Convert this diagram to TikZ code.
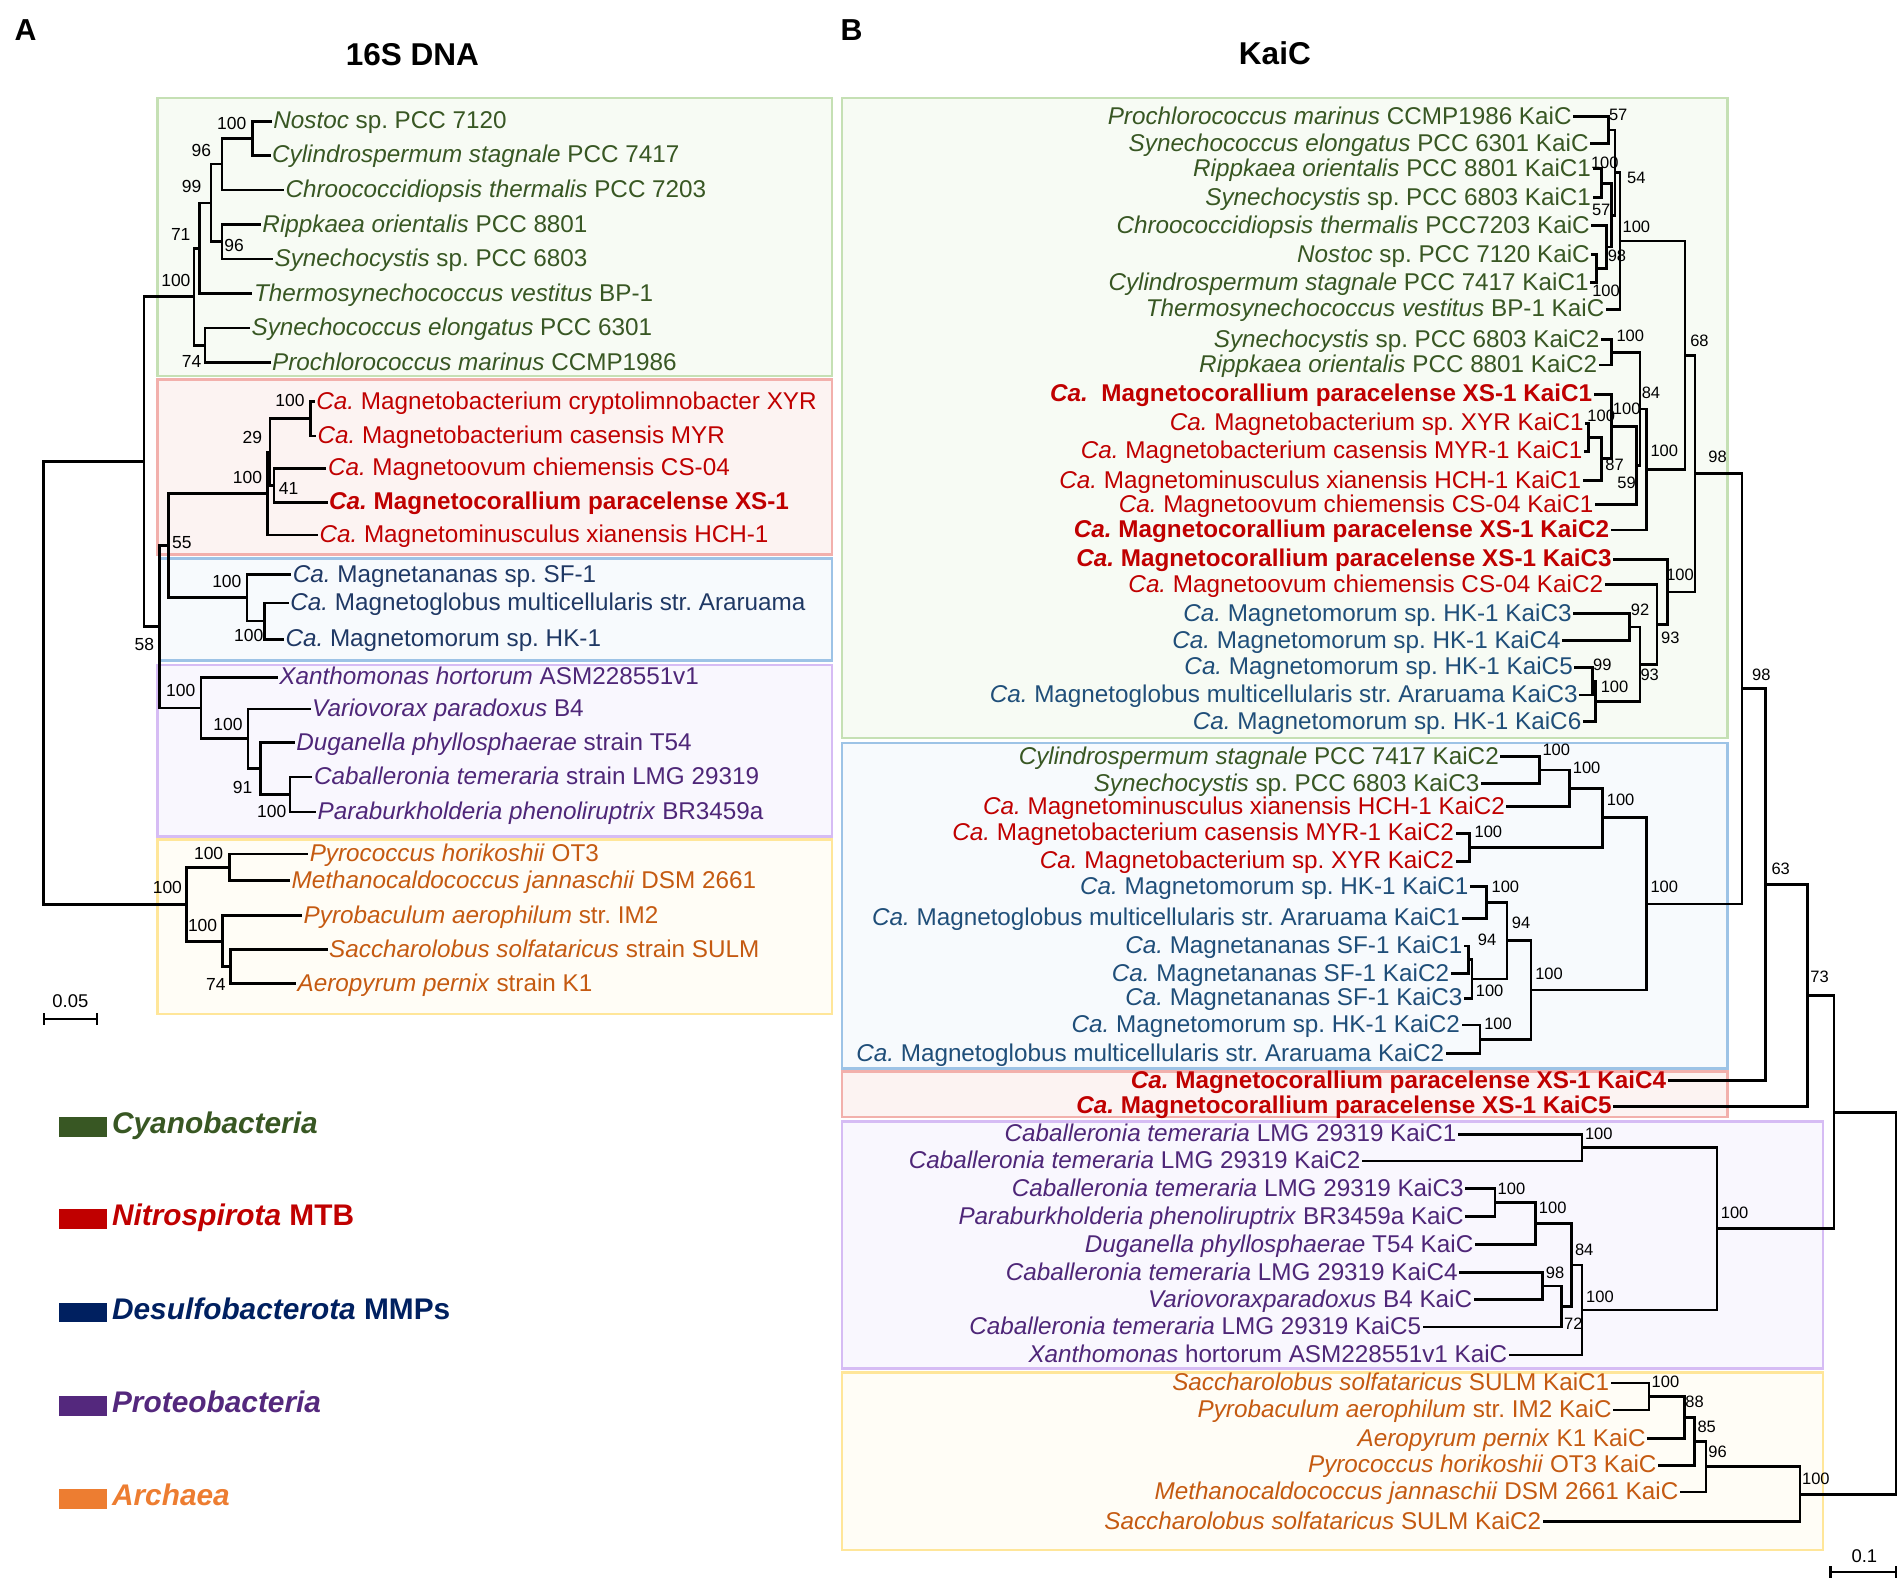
\documentclass[tikz,border=0pt]{standalone}
\usepackage{fontspec}
\setmainfont{Liberation Sans}
\frenchspacing
% label colours
\definecolor{cyanoT}{RGB}{56,87,35}
\definecolor{nitroT}{RGB}{192,0,0}
\definecolor{desulT}{RGB}{31,56,100}
\definecolor{desulB}{RGB}{31,78,121}
\definecolor{proteoT}{RGB}{78,38,120}
\definecolor{archT}{RGB}{197,90,17}
\definecolor{desulL}{RGB}{0,32,96}
\definecolor{proteoL}{RGB}{84,40,125}
\definecolor{archL}{RGB}{237,125,49}
% group boxes
\definecolor{cyD}{RGB}{197,224,180}\definecolor{cyF}{RGB}{247,251,244}
\definecolor{niD}{RGB}{242,176,172}\definecolor{niF}{RGB}{252,243,242}
\definecolor{deD}{RGB}{157,195,230}\definecolor{deF}{RGB}{247,250,253}
\definecolor{prD}{RGB}{214,188,244}\definecolor{prF}{RGB}{249,247,254}
\definecolor{arD}{RGB}{255,230,153}\definecolor{arF}{RGB}{255,253,246}
\tikzset{
  branch/.style={line width=1.1pt,line cap=rect},
  leafA/.style={anchor=west,inner sep=1pt,text height=7.3pt,text depth=1pt,font=\fontsize{10}{12}\selectfont},
  leafB/.style={leafA,anchor=east},
  bsA/.style={inner sep=0pt,font=\fontsize{7.2}{8}\selectfont},
  bsB/.style={inner sep=0pt,font=\fontsize{6.8}{8}\selectfont},
  ttl/.style={inner sep=0pt,font=\fontsize{13}{15}\selectfont\bfseries},
  panel/.style={inner sep=0pt,font=\fontsize{12.5}{15}\selectfont\bfseries},
  lgd/.style={anchor=base west,inner sep=0pt,font=\fontsize{12.3}{14}\selectfont\bfseries},
  boxcy/.style={draw=cyD,fill=cyF,line width=1pt},
  boxni/.style={draw=niD,fill=niF,line width=1pt},
  boxde/.style={draw=deD,fill=deF,line width=1pt},
  boxpr/.style={draw=prD,fill=prF,line width=1pt},
  boxar/.style={draw=arD,fill=arF,line width=1pt}
}
\begin{document}
\begin{tikzpicture}[x=0.5pt,y=-0.5pt]
\useasboundingbox (0,0) rectangle (1568,1307);
% group boxes, panel A
\draw[boxcy] (130,81) rectangle (686,310);
\draw[boxni] (130,313) rectangle (686,457);
\draw[boxde] (131.5,460.5) rectangle (686,544.5);
\draw[boxpr] (130,548) rectangle (686,689.5);
\draw[boxar] (130,692) rectangle (686,836);
% group boxes, panel B
\draw[boxcy] (694,81) rectangle (1424,608.5);
\draw[boxde] (694,612.3) rectangle (1424,880.8);
\draw[boxni] (694,883.5) rectangle (1424,920.6);
\draw[boxpr] (694,924.7) rectangle (1503,1128);
\draw[boxar] (694,1131.6) rectangle (1503,1278);
% titles
\node[panel] (labA) at (21,25) {A};
\node[panel] (labB) at (702,25) {B};
\node[ttl] (titA) at (340,45) {16S DNA};
\node[ttl] (titB) at (1051,44) {KaiC};

%%%%%%%% panel A : 16S tree
% leaves
\node[leafA,text=cyanoT] (nostoc) at (223,100) {\textit{Nostoc} sp. PCC 7120};
\node[leafA,text=cyanoT] (cylind) at (222,128) {\textit{Cylindrospermum stagnale} PCC 7417};
\node[leafA,text=cyanoT] (chroo) at (233,156.5) {\textit{Chroococcidiopsis thermalis} PCC 7203};
\node[leafA,text=cyanoT] (rippk) at (214,185) {\textit{Rippkaea orientalis} PCC 8801};
\node[leafA,text=cyanoT] (synocy) at (224,213.5) {\textit{Synechocystis} sp. PCC 6803};
\node[leafA,text=cyanoT] (thermo) at (207,242) {\textit{Thermosynechococcus vestitus} BP-1};
\node[leafA,text=cyanoT] (synoco) at (205,270.5) {\textit{Synechococcus elongatus} PCC 6301};
\node[leafA,text=cyanoT] (prochl) at (222,299) {\textit{Prochlorococcus marinus} CCMP1986};
\node[leafA,text=nitroT] (mbxyr) at (258.5,331) {\textit{Ca.} Magnetobacterium cryptolimnobacter XYR};
\node[leafA,text=nitroT] (mbmyr) at (259.5,359.5) {\textit{Ca.} Magnetobacterium casensis MYR};
\node[leafA,text=nitroT] (movum) at (268,386) {\textit{Ca.} Magnetoovum chiemensis CS-04};
\node[leafA,text=nitroT] (mcor) at (269,414) {\textbf{\textit{Ca.} Magnetocorallium paracelense XS-1}};
\node[leafA,text=nitroT] (mminus) at (261,441) {\textit{Ca.} Magnetominusculus xianensis HCH-1};
\node[leafA,text=desulT] (mnanas) at (239,473.5) {\textit{Ca.} Magnetananas sp. SF-1};
\node[leafA,text=desulT] (mglob) at (237,497) {\textit{Ca.} Magnetoglobus multicellularis str. Araruama};
\node[leafA,text=desulT] (mmorum) at (233,527) {\textit{Ca.} Magnetomorum sp. HK-1};
\node[leafA,text=proteoT] (xanth) at (228,558.4) {\textit{Xanthomonas hortorum} ASM228551v1};
\node[leafA,text=proteoT] (vario) at (255,584.5) {\textit{Variovorax paradoxus} B4};
\node[leafA,text=proteoT] (dugan) at (242,612) {\textit{Duganella phyllosphaerae} strain T54};
\node[leafA,text=proteoT] (caball) at (256.5,640.6) {\textit{Caballeronia temeraria} strain LMG 29319};
\node[leafA,text=proteoT] (parab) at (259.5,669.4) {\textit{Paraburkholderia phenoliruptrix} BR3459a};
\node[leafA,text=archT] (pyroc) at (253,704) {\textit{Pyrococcus horikoshii} OT3};
\node[leafA,text=archT] (methan) at (238,726) {\textit{Methanocaldococcus jannaschii} DSM 2661};
\node[leafA,text=archT] (pyrob) at (248,754.8) {\textit{Pyrobaculum aerophilum} str. IM2};
\node[leafA,text=archT] (saccha) at (269,783) {\textit{Saccharolobus solfataricus} strain SULM};
\node[leafA,text=archT] (aerop) at (243,811) {\textit{Aeropyrum pernix} strain K1};
% clades
\coordinate (cy100a) at (208,114);
\draw[branch] (nostoc.west) -| (cy100a) (cylind.west) -| (cy100a);
\coordinate (cy96a) at (183,135.25);
\draw[branch] (cy100a) -| (cy96a) (chroo.west) -| (cy96a);
\coordinate (cy96b) at (183,199.25);
\draw[branch] (rippk.west) -| (cy96b) (synocy.west) -| (cy96b);
\coordinate (cy99) at (174,167.25);
\draw[branch] (cy96a) -| (cy99) (cy96b) -| (cy99);
\coordinate (cy71) at (164.5,204.6);
\draw[branch] (cy99) -| (cy71) (thermo.west) -| (cy71);
\coordinate (cy74) at (169,284.75);
\draw[branch] (synoco.west) -| (cy74) (prochl.west) -| (cy74);
\coordinate (cy100b) at (160,244.7);
\draw[branch] (cy71) -| (cy100b) (cy74) -| (cy100b);
\coordinate (ni100a) at (256,345.25);
\draw[branch] (mbxyr.west) -| (ni100a) (mbmyr.west) -| (ni100a);
\coordinate (ni41) at (226,400);
\draw[branch] (movum.west) -| (ni41) (mcor.west) -| (ni41);
\coordinate (ni29) at (222.5,372.6);
\draw[branch] (ni100a) -| (ni29) (ni41) -| (ni29);
\coordinate (ni100) at (220.5,406.8);
\draw[branch] (ni29) -| (ni100) (mminus.west) -| (ni100);
\coordinate (de100b) at (218,512);
\draw[branch] (mglob.west) -| (de100b) (mmorum.west) -| (de100b);
\coordinate (de100) at (203.6,492.75);
\draw[branch] (mnanas.west) -| (de100) (de100b) -| (de100);
\coordinate (nd55) at (139,449.8);
\draw[branch] (ni100) -| (nd55) (de100) -| (nd55);
\coordinate (pr100c) at (239,655);
\draw[branch] (caball.west) -| (pr100c) (parab.west) -| (pr100c);
\coordinate (pr91) at (214.7,633.5);
\draw[branch] (dugan.west) -| (pr91) (pr100c) -| (pr91);
\coordinate (pr100b) at (204.5,609);
\draw[branch] (vario.west) -| (pr100b) (pr91) -| (pr100b);
\coordinate (pr100) at (165.7,583.7);
\draw[branch] (xanth.west) -| (pr100) (pr100b) -| (pr100);
\coordinate (nd58) at (131.3,516.75);
\draw[branch] (nd55) -| (nd58) (pr100) -| (nd58);
\coordinate (ndtop) at (118.8,380.7);
\draw[branch] (cy100b) -| (ndtop) (nd58) -| (ndtop);
\coordinate (ar100b) at (189.3,715);
\draw[branch] (pyroc.west) -| (ar100b) (methan.west) -| (ar100b);
\coordinate (ar74) at (190,797);
\draw[branch] (saccha.west) -| (ar74) (aerop.west) -| (ar74);
\coordinate (ar100c) at (183.5,775.9);
\draw[branch] (pyrob.west) -| (ar100c) (ar74) -| (ar100c);
\coordinate (ar100) at (153.6,745.45);
\draw[branch] (ar100b) -| (ar100) (ar100c) -| (ar100);
\coordinate (rootA) at (36,563);
\draw[branch] (ndtop) -| (rootA) (ar100) -| (rootA);
% bootstrap values
\node[bsA] (bsA1) at (191,102) {100};
\node[bsA] (bsA2) at (166,124) {96};
\node[bsA] (bsA3) at (158,154) {99};
\node[bsA] (bsA4) at (149,193) {71};
\node[bsA] (bsA5) at (193,202) {96};
\node[bsA] (bsA6) at (145,231) {100};
\node[bsA] (bsA7) at (158,298) {74};
\node[bsA] (bsA8) at (239,330) {100};
\node[bsA] (bsA9) at (208,361) {29};
\node[bsA] (bsA10) at (204,394) {100};
\node[bsA] (bsA11) at (238,403) {41};
\node[bsA] (bsA12) at (150,447) {55};
\node[bsA] (bsA13) at (187,479) {100};
\node[bsA] (bsA14) at (205,524) {100};
\node[bsA] (bsA15) at (119,531) {58};
\node[bsA] (bsA16) at (149,569) {100};
\node[bsA] (bsA17) at (188,597) {100};
\node[bsA] (bsA18) at (200,649) {91};
\node[bsA] (bsA19) at (224,669) {100};
\node[bsA] (bsA20) at (172,704) {100};
\node[bsA] (bsA21) at (138,732) {100};
\node[bsA] (bsA22) at (167,763) {100};
\node[bsA] (bsA23) at (178,812) {74};
% scale bar
\coordinate (sbA1) at (36.3,840);
\coordinate (sbA2) at (80,840);
\draw[branch] (sbA1) -- (sbA2) (sbA1) ++(0,-4) -- ++(0,8) (sbA2) ++(0,-4) -- ++(0,8);
\node[bsA,font=\fontsize{7.6}{8}\selectfont] (sbAt) at (58,825) {0.05};

% legend
\fill[cyanoT] (48.4,921) rectangle (88.5,937);
\node[lgd,text=cyanoT] (lgcy) at (92,934.5) {\textit{Cyanobacteria}};
\fill[nitroT] (48.4,997) rectangle (88.5,1013);
\node[lgd,text=nitroT] (lgni) at (92,1010.5) {\textit{Nitrospirota} MTB};
\fill[desulL] (48.4,1074) rectangle (88.5,1090);
\node[lgd,text=desulL] (lgde) at (92,1087.5) {\textit{Desulfobacterota} MMPs};
\fill[proteoL] (48.4,1151) rectangle (88.5,1167);
\node[lgd,text=proteoL] (lgpr) at (92,1164.5) {\textit{Proteobacteria}};
\fill[archL] (48.4,1227.6) rectangle (88.5,1243.6);
\node[lgd,text=archL] (lgar) at (92,1241) {\textit{Archaea}};

%%%%%%%% panel B : KaiC tree
% leaves
\node[leafB,text=cyanoT] (k01) at (1298,96) {\textit{Prochlorococcus marinus} CCMP1986 KaiC};
\node[leafB,text=cyanoT] (k02) at (1312,118.5) {\textit{Synechococcus elongatus} PCC 6301 KaiC};
\node[leafB,text=cyanoT] (k03) at (1314,139) {\textit{Rippkaea orientalis} PCC 8801 KaiC1};
\node[leafB,text=cyanoT] (k04) at (1314,163) {\textit{Synechocystis} sp. PCC 6803 KaiC1};
\node[leafB,text=cyanoT] (k05) at (1313,186) {\textit{Chroococcidiopsis thermalis} PCC7203 KaiC};
\node[leafB,text=cyanoT] (k06) at (1313,210) {\textit{Nostoc} sp. PCC 7120 KaiC};
\node[leafB,text=cyanoT] (k07) at (1312,233) {\textit{Cylindrospermum stagnale} PCC 7417 KaiC1};
\node[leafB,text=cyanoT] (k08) at (1325,255) {\textit{Thermosynechococcus vestitus} BP-1 KaiC};
\node[leafB,text=cyanoT] (k09) at (1321,280) {\textit{Synechocystis} sp. PCC 6803 KaiC2};
\node[leafB,text=cyanoT] (k10) at (1319,301) {\textit{Rippkaea orientalis} PCC 8801 KaiC2};
\node[leafB,text=nitroT] (k11) at (1315,325) {\textbf{\textit{Ca.}\ \ Magnetocorallium paracelense XS-1 KaiC1}};
\node[leafB,text=nitroT] (k12) at (1308,349) {\textit{Ca.} Magnetobacterium sp. XYR KaiC1};
\node[leafB,text=nitroT] (k13) at (1307,372) {\textit{Ca.} Magnetobacterium casensis MYR-1 KaiC1};
\node[leafB,text=nitroT] (k14) at (1306,396) {\textit{Ca.} Magnetominusculus xianensis HCH-1 KaiC1};
\node[leafB,text=nitroT] (k15) at (1316,416) {\textit{Ca.} Magnetoovum chiemensis CS-04 KaiC1};
\node[leafB,text=nitroT] (k16) at (1329,437) {\textbf{\textit{Ca.} Magnetocorallium paracelense XS-1 KaiC2}};
\node[leafB,text=nitroT] (k17) at (1331,461) {\textbf{\textit{Ca.} Magnetocorallium paracelense XS-1 KaiC3}};
\node[leafB,text=nitroT] (k18) at (1324,482) {\textit{Ca.} Magnetoovum chiemensis CS-04 KaiC2};
\node[leafB,text=desulB] (k19) at (1298,506) {\textit{Ca.} Magnetomorum sp. HK-1 KaiC3};
\node[leafB,text=desulB] (k20) at (1289,528) {\textit{Ca.} Magnetomorum sp. HK-1 KaiC4};
\node[leafB,text=desulB] (k21) at (1299,550) {\textit{Ca.} Magnetomorum sp. HK-1 KaiC5};
\node[leafB,text=desulB] (k22) at (1303,573) {\textit{Ca.} Magnetoglobus multicellularis str. Araruama KaiC3};
\node[leafB,text=desulB] (k23) at (1306,595) {\textit{Ca.} Magnetomorum sp. HK-1 KaiC6};
\node[leafB,text=cyanoT] (k24) at (1238,623.8) {\textit{Cylindrospermum stagnale} PCC 7417 KaiC2};
\node[leafB,text=cyanoT] (k25) at (1222,645.8) {\textit{Synechocystis} sp. PCC 6803 KaiC3};
\node[leafB,text=nitroT] (k26) at (1243,665) {\textit{Ca.} Magnetominusculus xianensis HCH-1 KaiC2};
\node[leafB,text=nitroT] (k27) at (1201,687) {\textit{Ca.} Magnetobacterium casensis MYR-1 KaiC2};
\node[leafB,text=nitroT] (k28) at (1201,710) {\textit{Ca.} Magnetobacterium sp. XYR KaiC2};
\node[leafB,text=desulB] (k29) at (1213,731) {\textit{Ca.} Magnetomorum sp. HK-1 KaiC1};
\node[leafB,text=desulB] (k30) at (1206,757) {\textit{Ca.} Magnetoglobus multicellularis str. Araruama KaiC1};
\node[leafB,text=desulB] (k31) at (1208,780) {\textit{Ca.} Magnetananas SF-1 KaiC1};
\node[leafB,text=desulB] (k32) at (1197,802.5) {\textit{Ca.} Magnetananas SF-1 KaiC2};
\node[leafB,text=desulB] (k33) at (1208,823) {\textit{Ca.} Magnetananas SF-1 KaiC3};
\node[leafB,text=desulB] (k34) at (1206,845) {\textit{Ca.} Magnetomorum sp. HK-1 KaiC2};
\node[leafB,text=desulB] (k35) at (1193,868.4) {\textit{Ca.} Magnetoglobus multicellularis str. Araruama KaiC2};
\node[leafB,text=nitroT] (k36) at (1376,891) {\textbf{\textit{Ca.} Magnetocorallium paracelense XS-1 KaiC4}};
\node[leafB,text=nitroT] (k37) at (1331,912) {\textbf{\textit{Ca.} Magnetocorallium paracelense XS-1 KaiC5}};
\node[leafB,text=proteoT] (k38) at (1203,935) {\textit{Caballeronia temeraria} LMG 29319 KaiC1};
\node[leafB,text=proteoT] (k39) at (1124,957) {\textit{Caballeronia temeraria} LMG 29319 KaiC2};
\node[leafB,text=proteoT] (k40) at (1209,980) {\textit{Caballeronia temeraria} LMG 29319 KaiC3};
\node[leafB,text=proteoT] (k41) at (1209,1003) {\textit{Paraburkholderia phenoliruptrix} BR3459a KaiC};
\node[leafB,text=proteoT] (k42) at (1217,1026) {\textit{Duganella phyllosphaerae} T54 KaiC};
\node[leafB,text=proteoT] (k43) at (1204,1049) {\textit{Caballeronia temeraria} LMG 29319 KaiC4};
\node[leafB,text=proteoT] (k44) at (1216,1071.5) {\textit{Variovoraxparadoxus} B4 KaiC};
\node[leafB,text=proteoT] (k45) at (1174,1094) {\textit{Caballeronia temeraria} LMG 29319 KaiC5};
\node[leafB,text=proteoT] (k46) at (1245,1117) {\textit{Xanthomonas} hortorum ASM228551v1 KaiC};
\node[leafB,text=archT] (k47) at (1329,1140) {\textit{Saccharolobus solfataricus} SULM KaiC1};
\node[leafB,text=archT] (k48) at (1331,1162.5) {\textit{Pyrobaculum aerophilum} str. IM2 KaiC};
\node[leafB,text=archT] (k49) at (1359,1186) {\textit{Aeropyrum pernix} K1 KaiC};
\node[leafB,text=archT] (k50) at (1368,1208) {\textit{Pyrococcus horikoshii} OT3 KaiC};
\node[leafB,text=archT] (k51) at (1386,1230) {\textit{Methanocaldococcus jannaschii} DSM 2661 KaiC};
\node[leafB,text=archT] (k52) at (1273,1254.5) {\textit{Saccharolobus solfataricus} SULM KaiC2};
% clades, cyanobacterial KaiC1
\coordinate (kA) at (1326,107.25);
\draw[branch] (k01.east) -| (kA) (k02.east) -| (kA);
\coordinate (kB) at (1320.4,151);
\draw[branch] (k03.east) -| (kB) (k04.east) -| (kB);
\coordinate (kD) at (1316,221.5);
\draw[branch] (k06.east) -| (kD) (k07.east) -| (kD);
\coordinate (kE) at (1324.6,203.75);
\draw[branch] (k05.east) -| (kE) (kD) -| (kE);
\coordinate (kF) at (1328.7,177.4);
\draw[branch] (kB) -| (kF) (kE) -| (kF);
\coordinate (kG) at (1331.5,142.3);
\draw[branch] (kA) -| (kG) (kF) -| (kG);
\coordinate (kH) at (1335.6,198.7);
\draw[branch] (kG) -| (kH) (k08.east) -| (kH);
% KaiC2 / Nitrospirota KaiC1
\coordinate (kN1) at (1328.7,290.5);
\draw[branch] (k09.east) -| (kN1) (k10.east) -| (kN1);
\coordinate (kN2) at (1309.5,360.5);
\draw[branch] (k12.east) -| (kN2) (k13.east) -| (kN2);
\coordinate (kN3) at (1320.4,378.25);
\draw[branch] (kN2) -| (kN3) (k14.east) -| (kN3);
\coordinate (kN4) at (1328.7,351.6);
\draw[branch] (k11.east) -| (kN4) (kN3) -| (kN4);
\coordinate (kN5) at (1349,383.8);
\draw[branch] (kN4) -| (kN5) (k15.east) -| (kN5);
\coordinate (kN7) at (1352,337.2);
\draw[branch] (kN1) -| (kN7) (kN5) -| (kN7);
\coordinate (kN6) at (1357.5,387.1);
\draw[branch] (kN7) -| (kN6) (k16.east) -| (kN6);
\coordinate (k68) at (1389,292.9);
\draw[branch] (kH) -| (k68) (kN6) -| (k68);
% XS-1 KaiC3 group
\coordinate (kM1) at (1312.6,561.5);
\draw[branch] (k21.east) -| (kM1) (k22.east) -| (kM1);
\coordinate (kM2) at (1315.4,578.25);
\draw[branch] (kM1) -| (kM2) (k23.east) -| (kM2);
\coordinate (kM3) at (1343.5,517);
\draw[branch] (k19.east) -| (kM3) (k20.east) -| (kM3);
\coordinate (kM4) at (1352,547.6);
\draw[branch] (kM3) -| (kM4) (kM2) -| (kM4);
\coordinate (kM5) at (1366,514.8);
\draw[branch] (k18.east) -| (kM5) (kM4) -| (kM5);
\coordinate (kM6) at (1374.4,487.9);
\draw[branch] (k17.east) -| (kM6) (kM5) -| (kM6);
\coordinate (k98a) at (1397.4,390.4);
\draw[branch] (k68) -| (k98a) (kM6) -| (k98a);
% blue box group
\coordinate (kB1) at (1269.4,634.8);
\draw[branch] (k24.east) -| (kB1) (k25.east) -| (kB1);
\coordinate (kB2) at (1294,649.9);
\draw[branch] (kB1) -| (kB2) (k26.east) -| (kB2);
\coordinate (kB3) at (1211.6,698.5);
\draw[branch] (k27.east) -| (kB3) (k28.east) -| (kB3);
\coordinate (kB4) at (1321,674.2);
\draw[branch] (kB2) -| (kB4) (kB3) -| (kB4);
\coordinate (kB5) at (1225.6,744);
\draw[branch] (k29.east) -| (kB5) (k30.east) -| (kB5);
\coordinate (kB6) at (1210.5,791.25);
\draw[branch] (k31.east) -| (kB6) (k32.east) -| (kB6);
\coordinate (kB7) at (1213.5,807.1);
\draw[branch] (kB6) -| (kB7) (k33.east) -| (kB7);
\coordinate (kB8) at (1242.4,775.6);
\draw[branch] (kB5) -| (kB8) (kB7) -| (kB8);
\coordinate (kB9) at (1220,856.7);
\draw[branch] (k34.east) -| (kB9) (k35.east) -| (kB9);
\coordinate (kB10) at (1262,816.1);
\draw[branch] (kB8) -| (kB10) (kB9) -| (kB10);
\coordinate (kB11) at (1357.5,745.2);
\draw[branch] (kB4) -| (kB11) (kB10) -| (kB11);
\coordinate (k98b) at (1436,567.8);
\draw[branch] (k98a) -| (k98b) (kB11) -| (k98b);
\coordinate (k63) at (1455.7,729.4);
\draw[branch] (k98b) -| (k63) (k36.east) -| (k63);
\coordinate (k73) at (1490,820.7);
\draw[branch] (k63) -| (k73) (k37.east) -| (k73);
% proteobacteria
\coordinate (kP1) at (1304.2,946);
\draw[branch] (k38.east) -| (kP1) (k39.east) -| (kP1);
\coordinate (kP2) at (1232.4,991.5);
\draw[branch] (k40.east) -| (kP2) (k41.east) -| (kP2);
\coordinate (kP3) at (1265.8,1008.75);
\draw[branch] (kP2) -| (kP3) (k42.east) -| (kP3);
\coordinate (kP4) at (1271.4,1060.25);
\draw[branch] (k43.east) -| (kP4) (k44.east) -| (kP4);
\coordinate (kP5) at (1287,1077.1);
\draw[branch] (kP4) -| (kP5) (k45.east) -| (kP5);
\coordinate (kP6) at (1295.6,1042.9);
\draw[branch] (kP3) -| (kP6) (kP5) -| (kP6);
\coordinate (kP7) at (1304.2,1080);
\draw[branch] (kP6) -| (kP7) (k46.east) -| (kP7);
\coordinate (kP8) at (1415.4,1013);
\draw[branch] (kP1) -| (kP8) (kP7) -| (kP8);
\coordinate (kQ) at (1512,916.9);
\draw[branch] (k73) -| (kQ) (kP8) -| (kQ);
% archaea
\coordinate (kR1) at (1359.3,1151.25);
\draw[branch] (k47.east) -| (kR1) (k48.east) -| (kR1);
\coordinate (kR2) at (1388.4,1168.6);
\draw[branch] (kR1) -| (kR2) (k49.east) -| (kR2);
\coordinate (kR3) at (1396.8,1188.3);
\draw[branch] (kR2) -| (kR3) (k50.east) -| (kR3);
\coordinate (kR4) at (1406.4,1209.2);
\draw[branch] (kR3) -| (kR4) (k51.east) -| (kR4);
\coordinate (kR5) at (1483.8,1231.8);
\draw[branch] (kR4) -| (kR5) (k52.east) -| (kR5);
\coordinate (rootB) at (1563,1074.4);
\draw[branch] (kQ) -| (rootB) (kR5) -| (rootB);
% bootstrap values
\node[bsB] (bsB1) at (1334,95) {57};
\node[bsB] (bsB2) at (1323,134) {100};
\node[bsB] (bsB3) at (1349,147) {54};
\node[bsB] (bsB4) at (1320,173) {57};
\node[bsB] (bsB5) at (1349,187) {100};
\node[bsB] (bsB6) at (1333,211) {98};
\node[bsB] (bsB7) at (1324,240) {100};
\node[bsB] (bsB8) at (1344,277) {100};
\node[bsB] (bsB9) at (1361,324) {84};
\node[bsB] (bsB10) at (1341,337) {100};
\node[bsB] (bsB11) at (1320,343) {100};
\node[bsB] (bsB12) at (1331,383) {87};
\node[bsB] (bsB13) at (1341,398) {59};
\node[bsB] (bsB14) at (1372,372) {100};
\node[bsB] (bsB15) at (1401,281) {68};
\node[bsB] (bsB16) at (1416,377) {98};
\node[bsB] (bsB17) at (1385,474) {100};
\node[bsB] (bsB18) at (1352,503) {92};
\node[bsB] (bsB19) at (1377,526) {93};
\node[bsB] (bsB20) at (1321,548) {99};
\node[bsB] (bsB21) at (1360,556) {93};
\node[bsB] (bsB22) at (1331,566) {100};
\node[bsB] (bsB23) at (1452,556) {98};
\node[bsB] (bsB24) at (1283,618) {100};
\node[bsB] (bsB25) at (1308,633) {100};
\node[bsB] (bsB26) at (1336,659) {100};
\node[bsB] (bsB27) at (1227,686) {100};
\node[bsB] (bsB28) at (1241,731) {100};
\node[bsB] (bsB29) at (1372,731) {100};
\node[bsB] (bsB30) at (1254,761) {94};
\node[bsB] (bsB31) at (1226,775) {94};
\node[bsB] (bsB32) at (1277,803) {100};
\node[bsB] (bsB33) at (1228,817) {100};
\node[bsB] (bsB34) at (1235,844) {100};
\node[bsB] (bsB35) at (1468,716) {63};
\node[bsB] (bsB36) at (1500,805) {73};
\node[bsB] (bsB37) at (1318,935) {100};
\node[bsB] (bsB38) at (1246,980) {100};
\node[bsB] (bsB39) at (1280,996) {100};
\node[bsB] (bsB40) at (1430,1000) {100};
\node[bsB] (bsB41) at (1306,1030) {84};
\node[bsB] (bsB42) at (1282,1049) {98};
\node[bsB] (bsB43) at (1319,1069) {100};
\node[bsB] (bsB44) at (1297,1091) {72};
\node[bsB] (bsB45) at (1373,1139) {100};
\node[bsB] (bsB46) at (1397,1156) {88};
\node[bsB] (bsB47) at (1407,1176) {85};
\node[bsB] (bsB48) at (1416,1197) {96};
\node[bsB] (bsB49) at (1497,1219) {100};
% scale bar
\coordinate (sbB1) at (1509,1296);
\coordinate (sbB2) at (1563,1296);
\draw[branch] (sbB1) -- (sbB2) (sbB1) ++(0,-4) -- ++(0,8) (sbB2) ++(0,-4) -- ++(0,8);
\node[bsB,font=\fontsize{7.6}{8}\selectfont] (sbBt) at (1537,1283) {0.1};
\end{tikzpicture}
\end{document}
